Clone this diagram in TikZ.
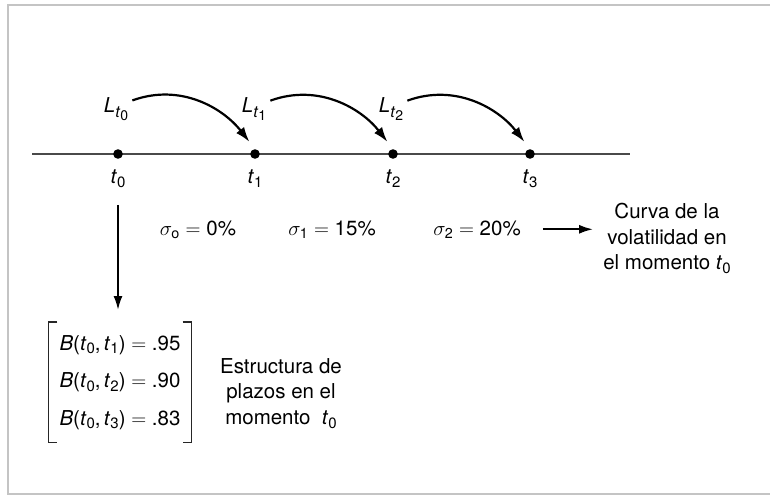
\documentclass[tikz,border=0pt]{standalone}
\usepackage{amsmath}
\usepackage{fontspec}
\setmainfont{TeX Gyre Heros}
\usetikzlibrary{arrows.meta,positioning}
\definecolor{framegray}{HTML}{C4C4C4}
\definecolor{axisgray}{HTML}{4A4A4A}
\newcommand{\figfont}{\fontsize{20.5}{25.7}\selectfont}
\newcommand{\tsub}[1]{\textit{t}\raisebox{-3.5pt}{\fontsize{15}{15}\selectfont #1}}
\newcommand{\Lsub}[1]{\textit{L}\raisebox{-5pt}{\fontsize{16}{16}\selectfont\textit{t}\raisebox{-3pt}{\fontsize{14}{14}\selectfont #1}}}
\tikzset{dot/.style={circle,fill=black,inner sep=0pt,minimum size=9.6pt},
  lbl/.style={inner sep=0pt,font=\figfont},
  note/.style={inner sep=0pt,align=center,font=\figfont},
  mat/.style={inner xsep=11pt,inner ysep=13pt,align=left,
    font=\fontsize{20.5}{37.5}\selectfont},
  brk/.style={line width=1.3pt,draw=black!85},
  arrow/.style={-{Latex[length=14pt,width=9pt]},line width=2pt},
  hop/.style={-{Latex[length=15pt,width=10pt]},line width=2.2pt,shorten >=9pt},
  axis/.style={line width=1.8pt,draw=axisgray},
  frameline/.style={line width=2pt,draw=framegray}}

\begin{document}
\begin{tikzpicture}[x=1pt,y=1pt]
\useasboundingbox (0,0) rectangle (770,496);
\draw[frameline] (770,491) -- (8,491) -- (8,2) -- (770,2);
% time axis
\coordinate (axL) at (32,342);
\coordinate (axR) at (630,342);
\draw[axis] (axL) -- (axR);
\node[dot] (d0) at (118,342) {};
\node[dot] (d1) at (255,342) {};
\node[dot] (d2) at (393,342) {};
\node[dot] (d3) at (530,342) {};
\node[lbl,below=11pt of d0] (lt0) {\tsub0};
\node[lbl,below=11pt of d1] (lt1) {\tsub1};
\node[lbl,below=11pt of d2] (lt2) {\tsub2};
\node[lbl,below=11pt of d3] (lt3) {\tsub3};
\node[lbl,above=28pt of d0,xshift=-2pt] (L0) {\Lsub0};
\node[lbl,above=28pt of d1,xshift=-1pt] (L1) {\Lsub1};
\node[lbl,above=28pt of d2,xshift=-2pt] (L2) {\Lsub2};
\draw[hop] ([shift={(4pt,-3pt)}]L0.north east) to[out=20,in=128] (d1.north);
\draw[hop] ([shift={(4pt,-3pt)}]L1.north east) to[out=20,in=128] (d2.north);
\draw[hop] ([shift={(4pt,-3pt)}]L2.north east) to[out=20,in=128] (d3.north);
% volatilities
\node[lbl,anchor=base] (s0) at (198,261) {$\sigma_{\text{o}} = \text{0\%}$};
\node[lbl,anchor=base] (s1) at (332,261) {$\sigma_{\text{1}} = \text{15\%}$};
\node[lbl,anchor=base] (s2) at (477,261) {$\sigma_{\text{2}} = \text{20\%}$};
\node[note,anchor=north] (curva) at (667,293) {Curva de la\\volatilidad en\\el momento \tsub0};
\draw[arrow,shorten <=22pt,shorten >=10pt] (s2.east) -- (s2.east -| curva.west);
% term structure
\node[mat,anchor=north] (mat) at (120,174) {\textit{B}(\tsub0,\,\tsub1)\ $=$\ .95\\\textit{B}(\tsub0,\,\tsub2)\ $=$\ .90\\\textit{B}(\tsub0,\,\tsub3)\ $=$\ .83};
\draw[brk] ([xshift=9pt]mat.north west) -- (mat.north west) -- (mat.south west) -- ([xshift=9pt]mat.south west);
\draw[brk] ([xshift=-9pt]mat.north east) -- (mat.north east) -- (mat.south east) -- ([xshift=-9pt]mat.south east);
\node[note,anchor=north] (estr) at (281,138) {Estructura de\\plazos en el\\momento\ \ \tsub0};
\draw[arrow,shorten <=17pt,shorten >=12pt] (lt0.south) -- (lt0.south |- mat.north);
\end{tikzpicture}
\end{document}
